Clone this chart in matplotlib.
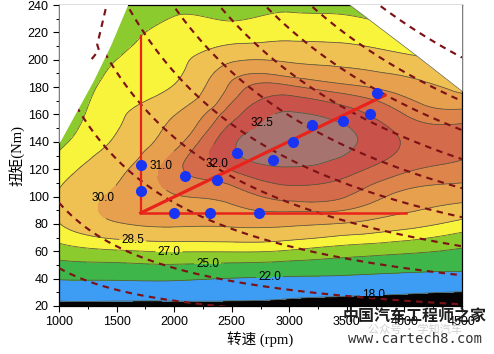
import numpy as np
import matplotlib
matplotlib.use("Agg")
import matplotlib.pyplot as plt
import matplotlib.tri as mtri

plt.rcParams['font.family'] = ['Liberation Sans', 'Noto Sans CJK SC']

# grid of the efficiency map (rpm, Nm)
speed = [1000, 1500, 2000, 2500, 3000, 3500, 4000, 4500]
torque = [20, 40, 60, 80, 100, 120, 140, 160, 180, 200, 220, 240]

# efficiency (%), one row per speed, torque 20 -> 240
eff_1000 = [17.0, 22.2, 26.1, 28.45, 28.7, 27.8, 26.6, 25.8, 25.2, 24.8, 24.5, 24.2]
eff_1500 = [17.0, 22.3, 26.8, 29.9, 30.2, 29.65, 28.7, 28.2, 27.6, 27.0, 26.3, 25.5]
eff_2000 = [17.0, 22.4, 27.1, 30.2, 30.95, 31.35, 30.7, 29.95, 28.6, 28.0, 27.5, 26.6]
eff_2500 = [17.2, 21.9, 27.1, 30.2, 31.2, 32.05, 32.4, 31.8, 31.15, 29.8, 27.6, 26.8]
eff_3000 = [16.8, 21.6, 26.8, 30.2, 31.65, 32.45, 32.75, 32.55, 31.6, 29.8, 28.0, 26.7]
eff_3500 = [16.0, 21.4, 26.0, 29.9, 31.5, 32.2, 32.6, 32.25, 31.15, 29.5, 27.9, 26.5]
eff_4000 = [15.5, 21.0, 25.4, 29.1, 30.8, 31.6, 31.95, 31.5, 30.6, 28.9, 27.3, 25.8]
eff_4500 = [14.5, 20.8, 24.6, 28.0, 30.4, 31.35, 31.6, 31.25, 29.6, 28.3, 26.8, 25.3]

levels = [0, 18, 22, 25, 27, 28.5, 30, 31, 31.5, 32, 32.5, 40]
band_colors = ['#050303', '#3d9cf3', '#3fb64a', '#8ccb2e', '#f8f43c', '#efc152',
               '#e6a04e', '#de854c', '#d46b4a', '#c9534a', '#a6736f']

# full load limit (white outside)
limit_left_speed = [1000, 1150, 1300, 1450, 1600]
limit_left_torque = [139, 162, 185, 211, 241]
limit_right_speed = [3510, 4120, 4500]
limit_right_torque = [241, 202, 177]

# constant power lines (kW)
power_kw = [5, 10, 20, 30, 40, 50, 60, 70, 80, 95]
power_start = [1000, 1000, 1100, 1000, 1000, 1000, 1000, 1000, 1000, 1000]

# odd dashed piece in the top-left corner
odd_speed = [1405, 1332, 1347, 1260]
odd_torque = [237, 211, 207, 198]

# red guide lines
vert_speed = [1710, 1710]
vert_torque = [88, 217]
horiz_speed = [1710, 4010]
horiz_torque = [88, 88]
diag_speed = [1710, 3830]
diag_torque = [88, 174]

# operating points
pts_speed = [1710, 1710, 2000, 2310, 2740, 2095, 2370, 2545, 2860, 3030, 3195, 3465, 3705, 3760]
pts_torque = [123, 104, 88, 88, 88, 115, 112, 131.5, 127, 140, 152, 155, 160, 176]

# contour labels
lab_levels = [32.5, 32.0, 31.0, 30.0, 28.5, 27.0, 25.0, 22.0, 18.0]
lab_speed = [2770, 2370, 1890, 1380, 1640, 1955, 2290, 2830, 3730]
lab_torque = [140, 124, 119, 98, 68, 59, 50, 40.5, 30]

fig = plt.figure(figsize=(4.94, 3.54), dpi=100)
ax = fig.add_axes([59 / 494, 1 - 306 / 354, 403 / 494, 301 / 354])

eff = np.array([eff_1000, eff_1500, eff_2000, eff_2500,
                eff_3000, eff_3500, eff_4000, eff_4500]).T
S, T = np.meshgrid(np.arange(len(speed)), np.arange(len(torque)))
tri = mtri.Triangulation(S.ravel().astype(float), T.ravel().astype(float))
refiner = mtri.UniformTriRefiner(tri)
tri_f, z_f = refiner.refine_field(eff.ravel(), subdiv=4)
sp = np.interp(tri_f.x, np.arange(len(speed)), speed)
tq = np.interp(tri_f.y, np.arange(len(torque)), torque)
tri_plot = mtri.Triangulation(sp, tq, tri_f.triangles)

ax.tricontourf(tri_plot, z_f, levels=levels, colors=band_colors, zorder=1)
line_sets = {}
for lev in levels[1:-1]:
    line_sets[lev] = ax.tricontour(tri_plot, z_f, levels=[lev], colors='#55553a',
                                   linewidths=0.55, zorder=2)

ax.fill_between(limit_right_speed, limit_right_torque, 245, color='white', lw=0, zorder=3)
ax.plot(limit_right_speed, limit_right_torque, color='#666655', lw=0.5, zorder=3)

dash_color = '#7c1216'
for p, n0 in zip(power_kw, power_start):
    n = np.linspace(n0, 4500, 300)
    ax.plot(n, 9549.0 * p / n, color=dash_color, lw=1.55,
            linestyle=(0, (3.0, 2.5)), zorder=4)

ax.fill_between(limit_left_speed, limit_left_torque, 245, color='white', lw=0, zorder=5)
ax.plot(odd_speed, odd_torque, color=dash_color, lw=1.55,
        linestyle=(0, (3.0, 2.5)), zorder=6)

ax.plot(vert_speed, vert_torque, color='#e8231c', lw=1.6, zorder=7)
ax.plot(horiz_speed, horiz_torque, color='#e8231c', lw=1.8, zorder=7)
ax.plot(diag_speed, diag_torque, color='#e8231c', lw=2.3, zorder=7)
ax.plot(pts_speed, pts_torque, 'o', color='#1a35f2', ms=8, mec='none', zorder=8)

for lev, xs, ys in zip(lab_levels, lab_speed, lab_torque):
    cset = line_sets[lev]
    try:
        cset.clabel(manual=[(xs, ys)], fmt='%.1f', inline=True,
                    inline_spacing=2, fontsize=8.5, colors='k')
    except Exception:
        ax.text(xs, ys, '%.1f' % lev, fontsize=8.5, ha='center', va='center')
    for t in cset.labelTexts:
        t.set_zorder(9)
        t.set_rotation(0)

ax.set_xlim(1000, 4500)
ax.set_ylim(20, 240)
ax.set_xticks(np.arange(1000, 4501, 500))
ax.set_yticks(np.arange(20, 241, 20))
ax.set_xticks(np.arange(1000, 4501, 250), minor=True)
ax.set_yticks(np.arange(20, 241, 10), minor=True)
ax.tick_params(which='major', direction='out', length=4, width=0.8, labelsize=9)
ax.tick_params(which='minor', direction='out', length=2.5, width=0.7)
for s in ax.spines.values():
    s.set_linewidth(0.9)

serif_cjk = ['Liberation Serif', 'Noto Sans CJK SC']
ax.set_xlabel('转速 (rpm)', family=serif_cjk, fontsize=10.5, labelpad=2)
ax.set_ylabel('扭矩(Nm)', family=serif_cjk, fontsize=10.5, labelpad=2)

# watermark
fig.text(415 / 494, 1 - 329 / 354, '公众号 · 学知汽车', color='#d0d0d0',
         fontsize=8, ha='center', va='center', family=['Noto Sans CJK SC'])
fig.text(415 / 494, 1 - 316 / 354, '中国汽车工程师之家', color='#1e1e1e',
         fontsize=11.5, weight='bold', ha='center', va='center',
         family=['Noto Sans CJK SC'])
fig.text(415 / 494, 1 - 339 / 354, 'www.cartech8.com', color='#333333',
         fontsize=10, ha='center', va='center', family=['DejaVu Sans Mono'])

fig.savefig('out.png', dpi=100)
